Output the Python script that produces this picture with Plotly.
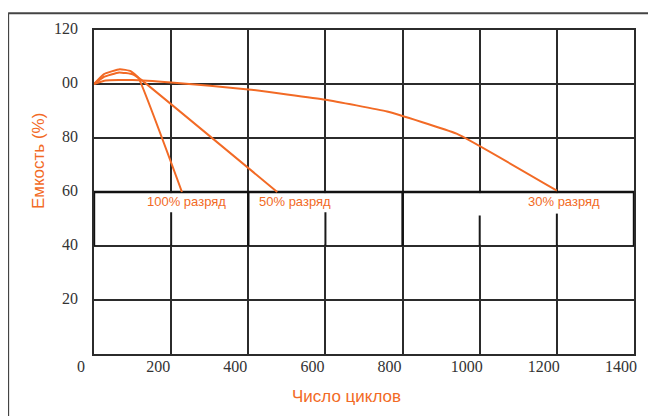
import plotly.graph_objects as go

# ---- data ----
x_ticks = [0, 200, 400, 600, 800, 1000, 1200, 1400]
x_ticklabels = ["0", "200", "400", "600", "800", "1000", "1200", "1400"]
y_ticks = [20, 40, 60, 80, 100, 120]
y_ticklabels = ["20", "40", "60", "80", "00", "120"]

cyc_100 = [0, 25, 67, 95, 115, 228]
cap_100 = [100, 103.6, 105.5, 104.8, 102.3, 60]

cyc_50 = [0, 25, 65, 100, 120, 475]
cap_50 = [100, 102.6, 104.3, 103.6, 101.8, 60]

cyc_30 = [0, 30, 100, 200, 400, 600, 760, 940, 1200]
cap_30 = [100, 101.3, 101.5, 100.6, 98.0, 94.2, 89.8, 81.6, 60.5]

labels = ["100% разряд", "50% разряд", "30% разряд"]
label_x = [239, 522, 1218]
label_y = [56.3, 56.3, 56.3]

ORANGE = "#f26a25"
GRID = "#2b2b2b"
SANS = "Liberation Sans Narrow, Liberation Sans, Arial, sans-serif"
SERIF = "Liberation Serif, Times New Roman, Times, serif"

fig = go.Figure()
for xs, ys in [(cyc_100, cap_100), (cyc_50, cap_50), (cyc_30, cap_30)]:
    fig.add_trace(go.Scatter(x=xs, y=ys, mode="lines",
                             line=dict(color=ORANGE, width=2, shape="spline", smoothing=0.35),
                             hoverinfo="skip", showlegend=False))

# white gaps in the grid behind the labels, with the lower part of the line redrawn
for gx, gtop in [(200, 52.5), (600, 52.5), (1000, 51.3), (1200, 52.0)]:
    fig.add_shape(type="rect", xref="x", yref="y", x0=gx - 6, x1=gx + 6, y0=40.5, y1=59.6,
                  fillcolor="white", line=dict(width=0), layer="between")
    fig.add_shape(type="line", xref="x", yref="y", x0=gx, x1=gx, y0=40, y1=gtop,
                  line=dict(color="#1a1a1a", width=2), layer="between")
# heavier lines around the 60 band
fig.add_shape(type="line", xref="x", yref="y", x0=0, x1=1400, y0=60, y1=60,
              line=dict(color="#111", width=2.4), layer="between")
for gx in [0, 400, 800, 1400]:
    fig.add_shape(type="line", xref="x", yref="y", x0=gx, x1=gx, y0=40, y1=60,
                  line=dict(color="#111", width=2.4), layer="between")

for t, lx, ly in zip(labels, label_x, label_y):
    fig.add_annotation(x=lx, y=ly, xref="x", yref="y", text=t, showarrow=False,
                       font=dict(family=SANS, size=13, color=ORANGE))

fig.add_annotation(x=-0.104, y=0.595, xref="paper", yref="paper", text="Емкость (%)",
                   textangle=-90, showarrow=False, xanchor="center", yanchor="middle",
                   font=dict(family=SANS, size=17, color=ORANGE))
fig.add_annotation(x=0.467, y=-0.132, xref="paper", yref="paper", text="Число циклов",
                   showarrow=False, xanchor="center", yanchor="middle",
                   font=dict(family=SANS, size=17, color=ORANGE))

# outer frame
fig.add_shape(type="line", xref="paper", yref="paper", x0=-0.159, x1=1.1, y0=1.052, y1=1.052,
              line=dict(color="#444", width=2))
fig.add_shape(type="line", xref="paper", yref="paper", x0=-0.159, x1=-0.159, y0=1.052, y1=-0.3,
              line=dict(color="#444", width=2))

fig.update_xaxes(range=[0, 1400], tickvals=x_ticks, ticktext=x_ticklabels,
                 showgrid=True, gridcolor=GRID, gridwidth=1.6,
                 showline=True, linecolor=GRID, linewidth=1.6, mirror=True,
                 zeroline=False, ticks="", ticklabelshift=-13, ticklabelstandoff=-3,
                 tickfont=dict(family=SERIF, size=16, color="#333"))
fig.update_yaxes(range=[0, 120], tickvals=y_ticks, ticktext=y_ticklabels,
                 showgrid=True, gridcolor=GRID, gridwidth=1.6,
                 showline=True, linecolor=GRID, linewidth=1.6, mirror=True,
                 zeroline=False, ticks="", ticklabelstandoff=11, ticklabelshift=-2,
                 tickfont=dict(family=SERIF, size=16, color="#333"))

# page is drawn with an 8px body offset: compensate in margins
fig.update_layout(width=656, height=416, margin=dict(l=86, r=30, t=20, b=70),
                  plot_bgcolor="white", paper_bgcolor="white")

fig.write_html("out.html")
